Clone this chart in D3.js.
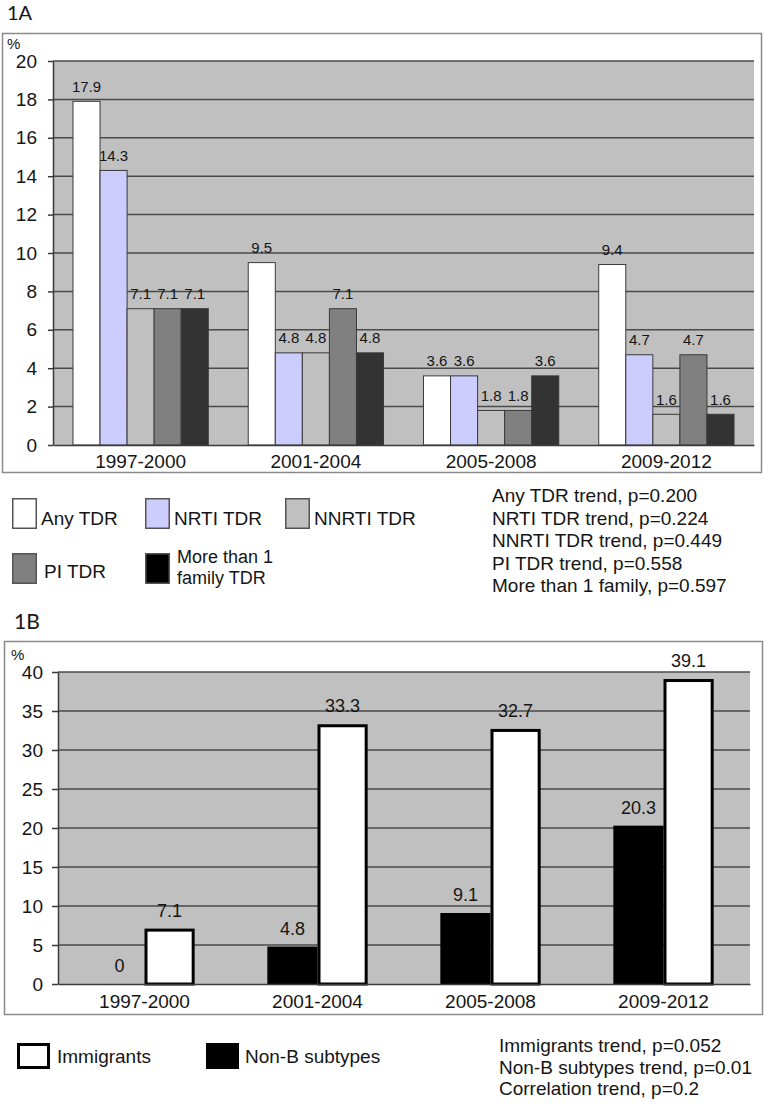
<!DOCTYPE html>
<html>
<head>
<meta charset="utf-8">
<script src="https://cdn.jsdelivr.net/npm/d3@7/dist/d3.min.js"></script>
<style>
  html, body { margin: 0; padding: 0; background: #ffffff; }
  svg { display: block; }
  text { font-family: "Liberation Sans", Arial, sans-serif; fill: #151515; }
</style>
</head>
<body>
<script>
// ---------------- DATA ----------------
const categories = ["1997-2000", "2001-2004", "2005-2008", "2009-2012"];

// Panel 1A series (%)
const anyTDR   = [17.9, 9.5, 3.6, 9.4];
const nrtiTDR  = [14.3, 4.8, 3.6, 4.7];
const nnrtiTDR = [7.1, 4.8, 1.8, 1.6];
const piTDR    = [7.1, 7.1, 1.8, 4.7];
const multiTDR = [7.1, 4.8, 3.6, 1.6];
const seriesNamesA = ["Any TDR", "NRTI TDR", "NNRTI TDR", "PI TDR", "More than 1 family TDR"];
const ticksA = [0, 2, 4, 6, 8, 10, 12, 14, 16, 18, 20];
const pValuesA = [
  "Any TDR trend, p=0.200",
  "NRTI TDR trend, p=0.224",
  "NNRTI TDR trend, p=0.449",
  "PI TDR trend, p=0.558",
  "More than 1 family, p=0.597"
];

// Panel 1B series (%)
const nonB       = [0, 4.8, 9.1, 20.3];
const immigrants = [7.1, 33.3, 32.7, 39.1];
const seriesNamesB = ["Non-B subtypes", "Immigrants"];
const ticksB = [0, 5, 10, 15, 20, 25, 30, 35, 40];
const pValuesB = [
  "Immigrants trend, p=0.052",
  "Non-B subtypes trend, p=0.01",
  "Correlation trend, p=0.2"
];

// ---------------- STYLES ----------------
const colorsA = ["#ffffff", "#ccccff", "#c0c0c0", "#808080", "#333333"];
const legendColorsA = ["#ffffff", "#ccccff", "#c0c0c0", "#808080", "#000000"];
const plotBg = "#c0c0c0";
const gridColor = "#4a4a4a";

const svg = d3.select("body").append("svg")
  .attr("width", 764).attr("height", 1109);

svg.append("rect").attr("width", 764).attr("height", 1109).attr("fill", "#ffffff");

// ================= PANEL 1A =================
(function () {
  const L = 53, R = 754, T = 61, B = 445;
  const valuesA = [anyTDR, nrtiTDR, nnrtiTDR, piTDR, multiTDR];

  svg.append("text").attr("x", 7).attr("y", 20)
    .style("font-family", "Lato, 'Liberation Sans', sans-serif")
    .style("font-size", "20px").text("1A");

  svg.append("rect").attr("x", 2.5).attr("y", 33.5).attr("width", 759).attr("height", 439)
    .attr("fill", "#ffffff").attr("stroke", "#8a8a8a").attr("stroke-width", 1.5);

  const x0 = d3.scaleBand().domain(categories).range([L, R])
    .paddingInner(0.228).paddingOuter(0.114);
  const x1 = d3.scaleBand().domain(seriesNamesA).range([0, x0.bandwidth()]);
  const y = d3.scaleLinear().domain([0, 20]).range([B, T]);

  const g = svg.append("g");
  g.append("rect").attr("x", L).attr("y", T).attr("width", R - L).attr("height", B - T)
    .attr("fill", plotBg);

  g.selectAll("line.grid").data(ticksA.filter(d => d > 0)).enter().append("line")
    .attr("x1", L).attr("x2", R)
    .attr("y1", d => y(d)).attr("y2", d => y(d))
    .attr("stroke", gridColor).attr("stroke-width", 1.5);

  // bars
  const flat = [];
  valuesA.forEach((arr, si) => arr.forEach((v, ci) => flat.push({ s: seriesNamesA[si], si, c: categories[ci], v })));

  g.selectAll("rect.bar").data(flat).enter().append("rect")
    .attr("x", d => x0(d.c) + x1(d.s))
    .attr("y", d => y(d.v))
    .attr("width", x1.bandwidth())
    .attr("height", d => y(0) - y(d.v))
    .attr("fill", d => colorsA[d.si])
    .attr("stroke", "#3a3a3a").attr("stroke-width", 1);

  g.selectAll("text.val").data(flat).enter().append("text")
    .attr("x", d => x0(d.c) + x1(d.s) + x1.bandwidth() / 2)
    .attr("y", d => y(d.v) - 9.5)
    .attr("text-anchor", "middle")
    .style("font-size", "15px")
    .text(d => d.v.toFixed(1));

  // axes
  const yAxis = g.append("g").attr("transform", `translate(${L},0)`)
    .call(d3.axisLeft(y).tickValues(ticksA).tickSize(5).tickSizeOuter(0).tickPadding(11));
  yAxis.selectAll("text").style("font-size", "19px").style("font-family", "'Liberation Sans', Arial, sans-serif").attr("fill", "#151515");
  yAxis.selectAll("line").attr("stroke", "#3a3a3a").attr("stroke-width", 1.5);
  yAxis.select(".domain").attr("stroke", "#3a3a3a").attr("stroke-width", 1.5);

  const xAxis = g.append("g").attr("transform", `translate(0,${B})`)
    .call(d3.axisBottom(x0).tickSize(0).tickSizeOuter(0).tickPadding(9.5));
  xAxis.selectAll("text").style("font-size", "19px").style("font-family", "'Liberation Sans', Arial, sans-serif").attr("fill", "#151515");
  xAxis.select(".domain").attr("stroke", "#3a3a3a").attr("stroke-width", 1.5);

  svg.append("text").attr("x", 7).attr("y", 49).style("font-size", "15px").text("%");

  // legend
  const cols = [12, 145, 285];
  const rows = [498, 553];
  seriesNamesA.forEach((name, i) => {
    const col = i < 3 ? i : i - 3;
    const row = i < 3 ? 0 : 1;
    const bx = cols[col], by = rows[row];
    svg.append("rect").attr("x", bx + 0.75).attr("y", by + 0.75).attr("width", 23.5).attr("height", 29.5)
      .attr("fill", legendColorsA[i]).attr("stroke", "#555555").attr("stroke-width", 1.5);
    if (name === "More than 1 family TDR") {
      svg.append("text").attr("x", bx + 32).attr("y", by + 10).style("font-size", "18px").text("More than 1");
      svg.append("text").attr("x", bx + 32).attr("y", by + 31).style("font-size", "18px").text("family TDR");
    } else {
      svg.append("text").attr("x", bx + (row === 0 ? 29 : 32)).attr("y", by + (row === 0 ? 27 : 25))
        .style("font-size", "19px").text(name);
    }
  });

  svg.selectAll("text.pA").data(pValuesA).enter().append("text")
    .attr("x", 492).attr("y", (d, i) => 502 + i * 22.6)
    .style("font-size", "19px").text(d => d);
})();

// ================= PANEL 1B =================
(function () {
  const L = 58, R = 750, T = 672, B = 984;
  const valuesB = [nonB, immigrants];

  svg.append("text").attr("x", 14).attr("y", 629)
    .style("font-family", "Lato, 'Liberation Sans', sans-serif")
    .style("font-size", "21px").text("1B");

  svg.append("rect").attr("x", 4.5).attr("y", 641.5).attr("width", 758).attr("height", 373)
    .attr("fill", "#ffffff").attr("stroke", "#8a8a8a").attr("stroke-width", 1.5);

  const x0 = d3.scaleBand().domain(categories).range([L, R])
    .paddingInner(0.42).paddingOuter(0.21);
  const x1 = d3.scaleBand().domain(seriesNamesB).range([0, x0.bandwidth()]);
  const y = d3.scaleLinear().domain([0, 40]).range([B, T]);

  const g = svg.append("g");
  g.append("rect").attr("x", L).attr("y", T).attr("width", R - L).attr("height", B - T)
    .attr("fill", plotBg);

  g.selectAll("line.grid").data(ticksB.filter(d => d > 0)).enter().append("line")
    .attr("x1", L).attr("x2", R)
    .attr("y1", d => y(d)).attr("y2", d => y(d))
    .attr("stroke", gridColor).attr("stroke-width", 1.5);

  const flat = [];
  valuesB.forEach((arr, si) => arr.forEach((v, ci) => flat.push({ s: seriesNamesB[si], si, c: categories[ci], v })));

  // Non-B (black, no outline)
  g.selectAll("rect.nonb").data(flat.filter(d => d.si === 0 && d.v > 0)).enter().append("rect")
    .attr("x", d => x0(d.c) + x1(d.s))
    .attr("y", d => y(d.v))
    .attr("width", x1.bandwidth())
    .attr("height", d => y(0) - y(d.v))
    .attr("fill", "#000000");

  // Immigrants (white with thick black outline)
  g.selectAll("rect.imm").data(flat.filter(d => d.si === 1)).enter().append("rect")
    .attr("x", d => x0(d.c) + x1(d.s) + 1.5)
    .attr("y", d => y(d.v) + 1.5)
    .attr("width", x1.bandwidth() - 3)
    .attr("height", d => y(0) - y(d.v) - 1.5)
    .attr("fill", "#ffffff").attr("stroke", "#000000").attr("stroke-width", 3);

  g.selectAll("text.val").data(flat).enter().append("text")
    .attr("x", d => x0(d.c) + x1(d.s) + x1.bandwidth() / 2)
    .attr("y", d => y(d.v) - 12)
    .attr("text-anchor", "middle")
    .style("font-size", "18px")
    .text(d => d.v === 0 ? "0" : d.v.toFixed(1));

  const yAxis = g.append("g").attr("transform", `translate(${L},0)`)
    .call(d3.axisLeft(y).tickValues(ticksB).tickSize(6).tickSizeOuter(0).tickPadding(9));
  yAxis.selectAll("text").style("font-size", "19px").style("font-family", "'Liberation Sans', Arial, sans-serif").attr("fill", "#151515");
  yAxis.selectAll("line").attr("stroke", "#3a3a3a").attr("stroke-width", 1.5);
  yAxis.select(".domain").attr("stroke", "#3a3a3a").attr("stroke-width", 1.5);

  const xAxis = g.append("g").attr("transform", `translate(0,${B})`)
    .call(d3.axisBottom(x0).tickSize(0).tickSizeOuter(0).tickPadding(10.5));
  xAxis.selectAll("text").style("font-size", "19px").style("font-family", "'Liberation Sans', Arial, sans-serif").attr("fill", "#151515");
  xAxis.select(".domain").attr("stroke", "#3a3a3a").attr("stroke-width", 1.5);

  svg.append("text").attr("x", 11).attr("y", 660).style("font-size", "15px").text("%");

  // legend
  svg.append("rect").attr("x", 18.5).attr("y", 1044.5).attr("width", 30).attr("height", 23)
    .attr("fill", "#ffffff").attr("stroke", "#000000").attr("stroke-width", 3);
  svg.append("text").attr("x", 57).attr("y", 1063).style("font-size", "19px").text(seriesNamesB[1]);
  svg.append("rect").attr("x", 206).attr("y", 1043).attr("width", 33).attr("height", 26)
    .attr("fill", "#000000");
  svg.append("text").attr("x", 245).attr("y", 1063).style("font-size", "19px").text(seriesNamesB[0]);

  svg.selectAll("text.pB").data(pValuesB).enter().append("text")
    .attr("x", 499).attr("y", (d, i) => 1052 + i * 21.5)
    .style("font-size", "19px").text(d => d);
})();
</script>
</body>
</html>
